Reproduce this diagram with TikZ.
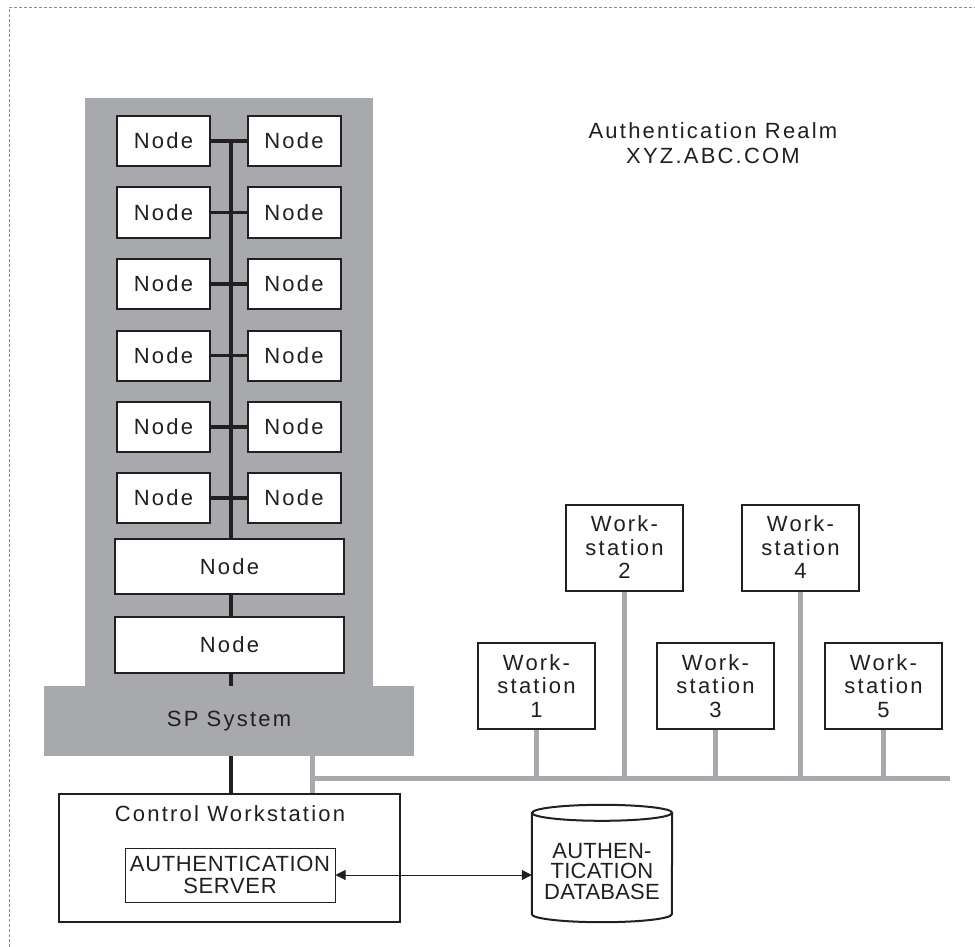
\documentclass[tikz,border=0pt]{standalone}
\usepackage{fontspec}
\setmainfont{Liberation Sans}[LetterSpace=10]
\newfontfamily\tightfont{Liberation Sans}[LetterSpace=3]
\newfontfamily\dbfont{Liberation Sans}[LetterSpace=1]
\usetikzlibrary{arrows.meta}
\definecolor{ink}{HTML}{231F20}
\definecolor{sgray}{HTML}{A7A9AC}
\definecolor{dgray}{HTML}{8A8C8E}
\tikzset{dbtip/.tip={Triangle[length=10pt,width=10pt]}}
\begin{document}
\begin{tikzpicture}[x=1pt,y=-1pt,
  font=\fontsize{22}{23.5}\selectfont, text=ink,
  box/.style={draw=ink, line width=2pt, fill=white, inner sep=0pt},
  nodebox/.style={box, minimum width=93pt, minimum height=50pt},
  bignode/.style={box, minimum width=229pt, minimum height=55pt},
  wsbox/.style={box, minimum width=117pt, minimum height=86pt, align=center},
  blk/.style={draw=ink, line width=3.5pt},
  gline/.style={draw=sgray, line width=5pt},
  cyl/.style={draw=ink, line width=2pt, fill=white}]
\useasboundingbox (0,0) rectangle (975,947);
% realm border
\draw[dgray, line width=0.8pt, dash pattern=on 3pt off 2pt] (9,947) -- (9,7) -- (975,7);
\node[align=center, font=\fontsize{22}{25}\selectfont] (realm) at (713,143) {Authentication Realm\\XYZ.ABC.COM};
% SP frame
\fill[sgray] (85,98) rectangle (373,686);
\node[fill=sgray, minimum width=370pt, minimum height=70pt, inner sep=0pt] (sp) at (229,721) {SP System};
% switch bus
\coordinate (bt) at (231,141);
\draw[blk] (bt) -- (bt |- sp.north);
\foreach \i/\y in {1/141,2/212.5,3/284,4/355.5,5/427,6/498}{
  \node[nodebox] (l\i) at (163.5,\y) {Node};
  \node[nodebox] (r\i) at (294,\y) {Node};
  \draw[blk] (l\i.east) -- (r\i.west);
}
\node[bignode] (b1) at (229.5,566.5) {Node};
\node[bignode, minimum height=56pt] (b2) at (229.5,645) {Node};
% control workstation
\node[box, minimum width=341pt, minimum height=128pt] (cws) at (229.5,858) {};
\node (cwst) at (230,814) {Control Workstation};
\draw[blk] (bt |- sp.south) -- (bt |- cws.north);
\node[draw=ink, line width=1pt, fill=white, minimum width=210pt, minimum height=54pt, inner sep=0pt, align=center, font=\tightfont\fontsize{22}{22}\selectfont] (srv) at (230,875) {AUTHENTICATION\\SERVER};
% LAN
\coordinate (gx) at (312,756);
\coordinate (busend) at (950,778);
\draw[gline] (gx) -- (gx |- cws.north);
\draw[gline] (gx |- busend) -- (busend);
\node[wsbox] (ws1) at (536.5,686) {Work-\\station\\1};
\node[wsbox] (ws2) at (624.5,547.5) {Work-\\station\\2};
\node[wsbox] (ws3) at (715.5,686) {Work-\\station\\3};
\node[wsbox] (ws4) at (800.5,547.5) {Work-\\station\\4};
\node[wsbox] (ws5) at (883.5,686) {Work-\\station\\5};
\foreach \w in {ws1,ws2,ws3,ws4,ws5}{
  \draw[gline] (\w.south) -- (\w.south |- busend);
}
% database
\node[minimum width=140pt, minimum height=117pt, inner sep=0pt] (db) at (602,863.5) {};
\draw[cyl] ([yshift=-8pt]db.north west) -- ([yshift=8pt]db.south west)
  arc[start angle=180, end angle=360, x radius=70pt, y radius=8pt]
  -- ([yshift=-8pt]db.north east)
  arc[start angle=0, end angle=180, x radius=70pt, y radius=8pt] -- cycle;
\draw[cyl, fill=none] ([yshift=-8pt]db.north west) arc[start angle=180, end angle=360, x radius=70pt, y radius=8pt];
\node[align=center, inner sep=0pt, font=\dbfont\fontsize{22}{20.5}\selectfont] (dbt) at ([yshift=-8pt]db.center) {AUTHEN-\\TICATION\\DATABASE};
\draw[ink, line width=1pt, {dbtip}-{dbtip}] (srv.east) -- (srv.east -| db.west);
\end{tikzpicture}
\end{document}
